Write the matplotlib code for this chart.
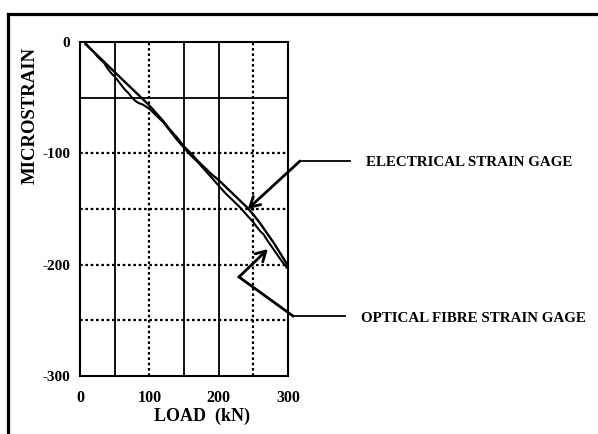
import numpy as np
import matplotlib
matplotlib.use("Agg")
import matplotlib.pyplot as plt
from matplotlib.lines import Line2D

# data (load in kN, microstrain)
load_elec = [8, 20, 30, 40, 50, 60, 70, 80, 90, 100, 110, 120, 130, 140, 150,
             160, 170, 180, 190, 200, 210, 220, 230, 240, 250, 260, 270, 280, 290, 300]
strain_elec = [-2, -9, -15, -21, -27, -33, -39, -45, -51, -57, -64, -71, -79, -86, -94,
               -100, -107, -113, -119, -124, -130, -136, -142, -148, -155, -163, -172, -181, -191, -201]

load_opt = [8, 15, 20, 25, 30, 35, 40, 45, 50, 55, 60, 65, 70, 75, 80, 85, 90, 95, 100,
            110, 120, 130, 140, 150, 160, 170, 180, 190, 200, 210, 220, 230, 240, 250,
            260, 265, 270, 280, 290, 295, 300]
strain_opt = [-1, -6, -9, -13, -16, -19, -24, -28, -31, -35, -39, -43, -46, -50, -53, -55, -56, -58, -60,
              -66, -72, -80, -88, -95, -102, -108, -115, -122, -129, -136, -142, -148, -155, -162,
              -170, -173, -178, -187, -196, -200, -204]

xticks = [0, 100, 200, 300]
yticks = [0, -100, -200, -300]
vgrid = [(50, '-'), (100, ':'), (150, '-'), (200, '-'), (250, ':')]
hgrid = [(-50, '-'), (-100, ':'), (-150, ':'), (-200, ':'), (-250, ':')]

plt.rcParams['font.family'] = 'Liberation Serif'
plt.rcParams['font.weight'] = 'bold'

W, H = 598, 434
fig = plt.figure(figsize=(W / 100, H / 100), dpi=100)

def px(x, y):
    return (x / W, 1 - y / H)

ax = fig.add_axes([80 / W, 1 - 376 / H, 208 / W, 334 / H])
ax.set_xlim(0, 300)
ax.set_ylim(-300, 0)

for xv, ls in vgrid:
    ax.axvline(xv, color='black', lw=1.3 if ls == '-' else 1.6, ls='-' if ls == '-' else (0, (1.2, 1.2)), zorder=1)
for yv, ls in hgrid:
    ax.axhline(yv, color='black', lw=1.3 if ls == '-' else 1.6, ls='-' if ls == '-' else (0, (1.2, 1.2)), zorder=1)

ax.plot(load_elec, strain_elec, color='black', lw=1.7, zorder=3)
ax.plot(load_opt, strain_opt, color='black', lw=1.5, zorder=3)

ax.set_xticks(xticks)
ax.set_xticklabels([str(t) for t in xticks], fontsize=11.5, fontweight='bold')
ax.set_yticks(yticks)
ax.set_yticklabels([str(t) for t in yticks], fontsize=11, fontweight='bold')
ax.tick_params(length=0, pad=7)
ax.tick_params(axis='x', pad=10)
for s in ax.spines.values():
    s.set_linewidth(1.5)

ax.set_xlabel('LOAD  (kN)', fontsize=13, fontweight='bold')
ax.xaxis.set_label_coords((202 - 80) / 208, -(416 - 376) / 334)
ax.xaxis.label.set_va('center')
ax.set_ylabel('MICROSTRAIN', fontsize=13.5, fontweight='bold')
ax.yaxis.set_label_coords((30 - 80) / 208, (376 - 115) / 334)
ax.yaxis.label.set_va('center')

# outer frame (top and left only)
fig.add_artist(Line2D([8 / W, 1], [1 - 14 / H, 1 - 14 / H], color='black', lw=2.3, transform=fig.transFigure))
fig.add_artist(Line2D([8 / W, 8 / W], [0, 1 - 14 / H], color='black', lw=2.3, transform=fig.transFigure))

# electrical strain gage callout
fig.add_artist(Line2D([px(302, 161)[0], px(350, 161)[0]], [px(302, 161)[1], px(350, 161)[1]],
                      color='black', lw=1.3, transform=fig.transFigure))
ax.annotate('', xy=(242, -150), xycoords='data', xytext=px(300, 161), textcoords='figure fraction',
            arrowprops=dict(arrowstyle='->,head_length=0.7,head_width=0.4', color='black', lw=2,
                            shrinkA=0, shrinkB=0))
fig.text(*px(366, 163), 'ELECTRICAL STRAIN GAGE', fontsize=10.8, fontweight='bold', va='center', ha='left')

# optical fibre strain gage callout
fig.add_artist(Line2D([px(293, 316)[0], px(345, 316)[0]], [px(293, 316)[1], px(345, 316)[1]],
                      color='black', lw=1.3, transform=fig.transFigure))
fig.add_artist(Line2D([px(293, 316)[0], px(239, 277)[0]], [px(293, 316)[1], px(239, 277)[1]],
                      color='black', lw=2, transform=fig.transFigure))
ax.annotate('', xy=(271, -186), xycoords='data', xytext=px(239, 277), textcoords='figure fraction',
            arrowprops=dict(arrowstyle='->,head_length=0.7,head_width=0.4', color='black', lw=2,
                            shrinkA=0, shrinkB=0))
fig.text(*px(361, 318), 'OPTICAL FIBRE STRAIN GAGE', fontsize=10.8, fontweight='bold', va='center', ha='left')

fig.savefig('out.png', dpi=100)
